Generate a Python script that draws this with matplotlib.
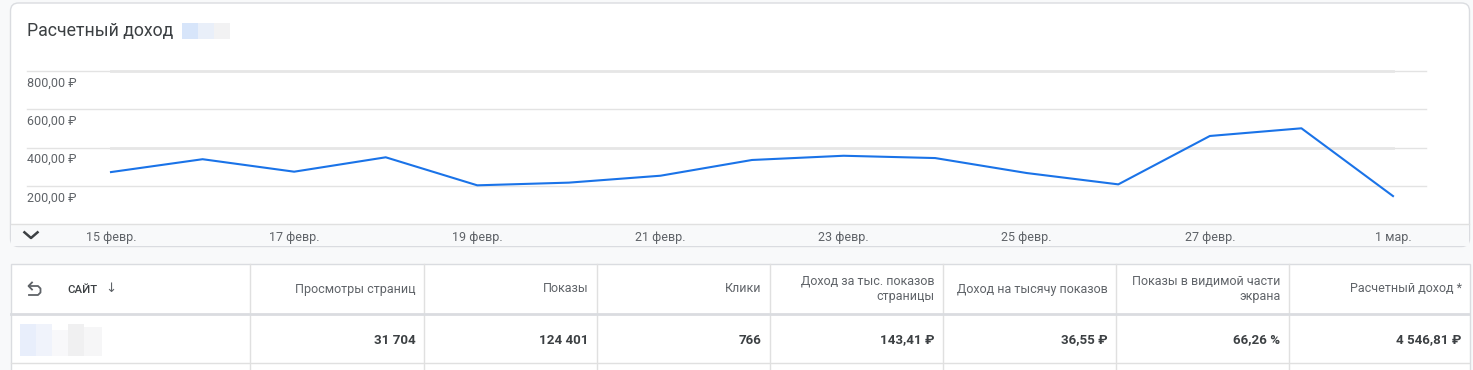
import matplotlib.pyplot as plt
from matplotlib.patches import FancyBboxPatch, Rectangle

# Data
dates = ["15 февр.", "16 февр.", "17 февр.", "18 февр.", "19 февр.", "20 февр.",
         "21 февр.", "22 февр.", "23 февр.", "24 февр.", "25 февр.", "26 февр.",
         "27 февр.", "28 февр.", "1 мар."]
revenue = [272, 339, 274, 349, 203, 217, 253, 335, 357, 345, 267, 208, 460, 500, 147]
y_ticks = [200, 400, 600, 800]
y_labels = ["200,00 ₽", "400,00 ₽", "600,00 ₽", "800,00 ₽"]

columns = ["Просмотры страниц", "Показы", "Клики", "Доход за тыс. показов\nстраницы",
           "Доход на тысячу показов", "Показы в видимой части\nэкрана", "Расчетный доход *"]
totals = ["31 704", "124 401", "766", "143,41 ₽", "36,55 ₽", "66,26 %", "4 546,81 ₽"]

FONT = ["Roboto", "DejaVu Sans"]
plt.rcParams["font.family"] = FONT

W, H = 1473, 370
fig = plt.figure(figsize=(W / 100, H / 100), dpi=100)
fig.patch.set_facecolor("#f8f9fa")

# pixel-space background layer
bg = fig.add_axes([0, 0, 1, 1])
bg.set_xlim(0, W)
bg.set_ylim(H, 0)
bg.axis("off")

border = "#dadce0"
# chart card
bg.add_patch(FancyBboxPatch((10.5, 3), 1459, 243.5, boxstyle="round,pad=0,rounding_size=8",
                            facecolor="white", edgecolor=border, lw=1))
bg.add_patch(Rectangle((11, 224.3), 1458, 21.5, facecolor="#f8f9fa", edgecolor="none"))
bg.plot([11, 1469], [224.3, 224.3], color="#e0e0e0", lw=1)
bg.plot([23.5, 31, 38.5], [231.5, 238, 231.5], color="#3c4043", lw=1.8, solid_capstyle="butt")

bg.text(27, 31, "Расчетный доход", fontsize=12.8, color="#3c4043", va="center", ha="left")
for x0, c in [(182, "#d7e5fa"), (198, "#e9eff9"), (214, "#f2f2f3")]:
    bg.add_patch(Rectangle((x0, 23), 16, 16, facecolor=c, edgecolor="none"))

# table card
bg.add_patch(Rectangle((10.5, 264.3), 1459, 120, facecolor="white", edgecolor=border, lw=1))
col_edges = [250, 424, 597, 770, 943, 1116, 1289, 1470]
for xe in col_edges[:-1]:
    bg.plot([xe, xe], [264.3, 370], color="#e0e0e0", lw=1)
bg.plot([11, 1469], [314, 314], color="#dadce0", lw=2)
bg.plot([11, 1469], [362.5, 362.5], color="#e0e0e0", lw=1)

# undo icon
bg.plot([29, 38, 40.5, 40.5, 38, 29], [286, 286, 288.5, 292.5, 295, 295], color="#5f6368", lw=1.3)
bg.plot([32, 28.5, 32], [282.5, 286, 289.5], color="#5f6368", lw=1.3)
bg.text(67, 290, "САЙТ", fontsize=8.2, color="#3c4043", va="center", ha="left",
        fontweight="medium")
bg.text(111, 289, "↓", fontsize=9.5, color="#5f6368", va="center", ha="center")

for xe, name in zip(col_edges[1:], columns):
    bg.text(xe - 8.5, 289, name, fontsize=9, color="#5f6368", va="center", ha="right",
            linespacing=1.25)
for xe, val in zip(col_edges[1:], totals):
    bg.text(xe - 8.5, 340, val, fontsize=9.6, color="#3c4043", va="center", ha="right",
            fontweight="bold")

# blurred site name
for (x0, y0, w, h, c) in [(20, 324, 16, 32, "#e8eefb"), (36, 324, 16, 32, "#f0f3fb"),
                          (52, 330, 16, 26, "#f8f8fa"), (68, 324, 16, 32, "#f0f0f1"),
                          (84, 327, 18, 29, "#f6f6f7")]:
    bg.add_patch(Rectangle((x0, y0), w, h, facecolor=c, edgecolor="none"))

# line chart
step = (1393 - 111) / 14
left_px, right_px, top_px, bot_px = 27, 1426, 70.7, 224.3
ax = fig.add_axes([left_px / W, (H - bot_px) / H, (right_px - left_px) / W, (bot_px - top_px) / H])
ax.set_facecolor("none")
ax.set_xlim((left_px - 111) / step, (right_px - 111) / step)
ax.set_ylim(0, 800)
for s in ax.spines.values():
    s.set_visible(False)

days = list(range(len(dates)))
for v, lab in zip(y_ticks, y_labels):
    ax.axhline(v, color="#e3e3e3", lw=1, clip_on=False, zorder=1)
    ax.annotate(lab, xy=(0, v), xycoords=("axes fraction", "data"), xytext=(0, -8.7),
                textcoords="offset points", fontsize=9, color="#5f6368", va="center", ha="left")
for v in [800, 400]:
    ax.plot([days[0], days[-1]], [v, v], color="#e6e6e6", lw=2, clip_on=False, zorder=1)

ax.plot(days, revenue, color="#1a73e8", lw=1.5, zorder=3, clip_on=False)
ax.set_yticks([])
ax.set_xticks(days[::2])
ax.set_xticklabels(dates[::2], fontsize=9, color="#5f6368")
ax.tick_params(axis="x", length=0, pad=5)

fig.savefig("out.png", dpi=100, facecolor=fig.get_facecolor())
